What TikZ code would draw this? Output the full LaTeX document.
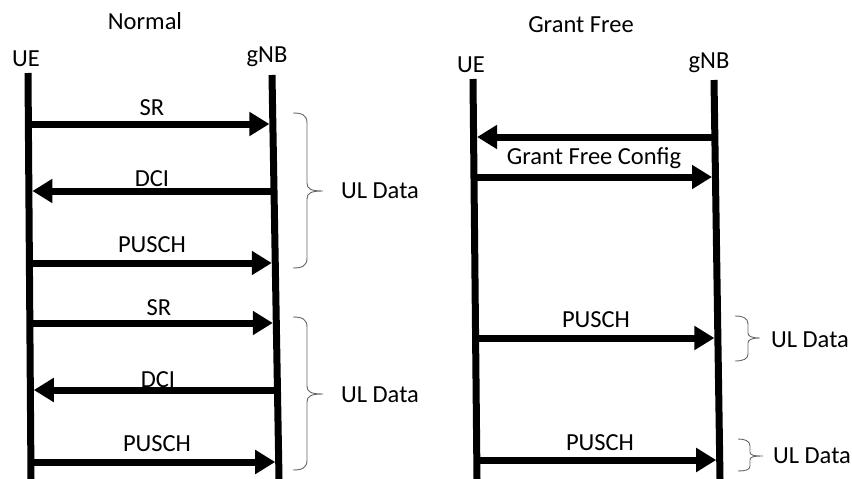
\documentclass[tikz,border=0pt]{standalone}
\usepackage{fontspec}
\setmainfont{Carlito}
\usetikzlibrary{arrows.meta}
\tikzstyle{LifeLine}=[line width=7pt]
\tikzstyle{MsgArrow}=[line width=7pt,-{Triangle[length=20pt,width=23pt]},shorten >=3.5pt]
\tikzstyle{MsgLabel}=[anchor=base,inner sep=0pt,font=\fontsize{24.5}{29}\selectfont]
\tikzstyle{DataBrace}=[draw=black!60,line width=0.9pt]

\begin{document}
\begin{tikzpicture}[x=1pt,y=-1pt]
        \useasboundingbox (0,0) rectangle (852,479);
        % Normal
        \node[MsgLabel](tNormal)at(145,29){Normal};
        \node[MsgLabel](ueL)at(26,66){UE};
        \node[MsgLabel](gnbL)at(267,62){gNB};
        \coordinate(ueTopL)at(28,73);
        \coordinate(ueBotL)at(31,479);
        \coordinate(gnbTopL)at(272,75);
        \coordinate(gnbBotL)at(279,479);
        \draw[LifeLine](ueTopL)--(ueBotL);
        \draw[LifeLine](gnbTopL)--(gnbBotL);
        \coordinate(srA)at(28.4,124);   \coordinate(srB)at(272.9,124);
        \coordinate(dciA)at(28.9,191);  \coordinate(dciB)at(274.0,191);
        \coordinate(puA)at(29.4,263);   \coordinate(puB)at(275.3,263);
        \coordinate(srC)at(29.8,323);   \coordinate(srD)at(276.3,323);
        \coordinate(dciC)at(30.3,390);  \coordinate(dciD)at(277.5,390);
        \coordinate(puC)at(30.9,462);   \coordinate(puD)at(278.7,462);
        \draw[MsgArrow](srA)--(srB);
        \draw[MsgArrow](dciB)--(dciA);
        \draw[MsgArrow](puA)--(puB);
        \draw[MsgArrow](srC)--(srD);
        \draw[MsgArrow](dciD)--(dciC);
        \draw[MsgArrow](puC)--(puD);
        \node[MsgLabel](srLabA)at(152,115){SR};
        \node[MsgLabel](dciLabA)at(152,186){DCI};
        \node[MsgLabel](puLabA)at(152,252){PUSCH};
        \node[MsgLabel](srLabB)at(159,315){SR};
        \node[MsgLabel](dciLabB)at(158,387){DCI};
        \node[MsgLabel](puLabB)at(157,451){PUSCH};
        % braces
        \draw[DataBrace](293,113) .. controls (302,113) and (307,115) .. (307,123)
            -- (307,183) .. controls (307,189) and (311,191) .. (323,191)
            .. controls (311,191) and (307,193) .. (307,199)
            -- (307,258) .. controls (307,266) and (302,268) .. (293,268);
        \draw[DataBrace](293,317) .. controls (302,317) and (307,319) .. (307,327)
            -- (307,386) .. controls (307,392) and (311,394) .. (323,394)
            .. controls (311,394) and (307,396) .. (307,402)
            -- (307,460) .. controls (307,468) and (302,470) .. (293,470);
        \node[MsgLabel](ulA)at(380,198){UL Data};
        \node[MsgLabel](ulB)at(380,402){UL Data};
        % Grant Free
        \node[MsgLabel](tGrant)at(581,32){Grant Free};
        \node[MsgLabel](ueR)at(471,72){UE};
        \node[MsgLabel](gnbR)at(709,68){gNB};
        \coordinate(ueTopR)at(473,79);
        \coordinate(ueBotR)at(477,479);
        \coordinate(gnbTopR)at(714,80);
        \coordinate(gnbBotR)at(720,479);
        \draw[LifeLine](ueTopR)--(ueBotR);
        \draw[LifeLine](gnbTopR)--(gnbBotR);
        \coordinate(cfgA)at(473.6,137);  \coordinate(cfgB)at(714.9,137);
        \coordinate(cfgC)at(474.0,177);  \coordinate(cfgD)at(715.5,177);
        \coordinate(gfA)at(475.6,338);   \coordinate(gfB)at(717.9,338);
        \coordinate(gfC)at(476.8,460);   \coordinate(gfD)at(719.7,460);
        \draw[MsgArrow](cfgB)--(cfgA);
        \draw[MsgArrow](cfgC)--(cfgD);
        \draw[MsgArrow](gfA)--(gfB);
        \draw[MsgArrow](gfC)--(gfD);
        \node[MsgLabel](cfgLab)at(594,164){Grant Free Config};
        \node[MsgLabel](gfLabA)at(596,327){PUSCH};
        \node[MsgLabel](gfLabB)at(600,450){PUSCH};
        \draw[DataBrace](735,316) .. controls (743,316) and (748,318) .. (748,324)
            -- (748,333) .. controls (748,336) and (751,338) .. (760,338)
            .. controls (751,338) and (748,340) .. (748,343)
            -- (748,354) .. controls (748,359) and (743,361) .. (735,361);
        \draw[DataBrace](738,439) .. controls (745,439) and (750,441) .. (750,446)
            -- (750,452) .. controls (750,455) and (753,456) .. (763,456)
            .. controls (753,456) and (750,457) .. (750,460)
            -- (750,466) .. controls (750,470) and (745,471) .. (738,471);
        \node[MsgLabel](ulC)at(810,347){UL Data};
        \node[MsgLabel](ulD)at(812,463){UL Data};
    \end{tikzpicture}
\end{document}
